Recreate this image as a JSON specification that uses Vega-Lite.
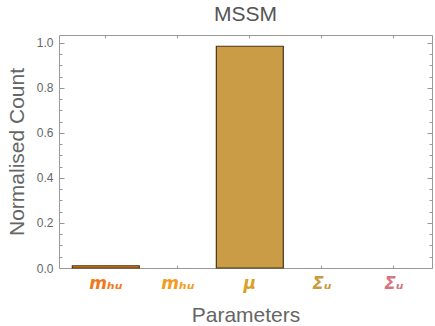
{
  "$schema": "https://vega.github.io/schema/vega-lite/v6.json",
  "autosize": {"type": "none"},
  "padding": {"left": 59, "top": 35, "right": 3, "bottom": 58},
  "width": 373,
  "height": 233,
  "background": "white",
  "title": {"text": "MSSM", "fontSize": 21, "font": "Liberation Sans", "color": "#555555", "fontWeight": "normal", "offset": 10},
  "config": {
    "view": {"stroke": "#999999", "strokeWidth": 1},
    "axis": {"domainColor": "#999999", "tickColor": "#999999", "labelColor": "#666666", "labelFont": "Liberation Sans", "titleFont": "Liberation Sans", "titleColor": "#666666", "titleFontWeight": "normal", "grid": false}
  },
  "data": {"values": [
    {"id": 1, "param": "mₕᵤ", "value": 0.01},
    {"id": 2, "param": "mₕᵤ\u200b", "value": 0},
    {"id": 3, "param": "μ", "value": 0.985},
    {"id": 4, "param": "Σᵤ", "value": 0},
    {"id": 5, "param": "Σᵤ\u200b", "value": 0}
  ]},
  "layer": [
    {
      "mark": {"type": "bar", "stroke": "#4a3518"},
      "encoding": {
        "x": {"field": "param", "type": "nominal", "sort": {"field": "id"},
          "scale": {"paddingInner": 0.07, "paddingOuter": 0.125, "align": 0.74},
          "axis": {"orient": "bottom", "title": "Parameters", "titleFontSize": 21, "titlePadding": 13, "domain": false, "tickSize": -3, "labelAngle": 0, "labelPadding": 10, "labelFontSize": 17, "labelFont": "DejaVu Sans", "labelFontWeight": "bold", "labelFontStyle": "italic",
            "labelColor": {"expr": "datum.value == 'μ' ? '#d9a126' : datum.value == 'Σᵤ' ? '#c99b3c' : datum.value == 'Σᵤ\u200b' ? '#d47683' : datum.value == 'mₕᵤ' ? '#f07a1a' : '#f59b22'"}}},
        "y": {"field": "value", "type": "quantitative", "scale": {"domain": [0, 1.035], "nice": false, "zero": true},
          "axis": {"orient": "left", "title": "Normalised Count", "titleFontSize": 21, "titlePadding": 9, "values": [0, 0.2, 0.4, 0.6, 0.8, 1.0], "format": ".1f", "tickSize": -5, "labelPadding": 11, "labelFontSize": 12, "domain": false}},
        "color": {"field": "param", "type": "nominal", "sort": {"field": "id"}, "legend": null,
          "scale": {"range": ["#e07b10", "#f59b22", "#c99c45", "#c99b3c", "#d47683"]}},
        "strokeWidth": {"condition": {"test": "datum.value > 0", "value": 1.2}, "value": 0}
      }
    },
    {
      "mark": {"type": "bar", "opacity": 0},
      "encoding": {
        "x": {"field": "param", "type": "nominal", "sort": {"field": "id"}, "axis": null},
        "y": {"field": "value", "type": "quantitative", "axis": {"orient": "left", "title": null, "labels": false, "domain": false, "tickSize": -3,
          "values": [0.05, 0.1, 0.15, 0.25, 0.3, 0.35, 0.45, 0.5, 0.55, 0.65, 0.7, 0.75, 0.85, 0.9, 0.95]}}
      }
    },
    {
      "mark": {"type": "bar", "opacity": 0},
      "encoding": {
        "x": {"field": "param", "type": "nominal", "sort": {"field": "id"}, "axis": null},
        "y": {"field": "value", "type": "quantitative", "axis": {"orient": "right", "title": null, "labels": false, "domain": false, "tickSize": -5, "values": [0, 0.2, 0.4, 0.6, 0.8, 1.0]}}
      }
    },
    {
      "mark": {"type": "bar", "opacity": 0},
      "encoding": {
        "y": {"field": "value", "type": "quantitative", "axis": {"orient": "right", "title": null, "labels": false, "domain": false, "tickSize": -3,
          "values": [0.05, 0.1, 0.15, 0.25, 0.3, 0.35, 0.45, 0.5, 0.55, 0.65, 0.7, 0.75, 0.85, 0.9, 0.95]}},
        "x": {"field": "param", "type": "nominal", "sort": {"field": "id"}, "axis": {"orient": "top", "title": null, "labels": false, "domain": false, "tickSize": -3}}
      }
    }
  ],
  "resolve": {"axis": {"y": "independent", "x": "independent"}}
}
